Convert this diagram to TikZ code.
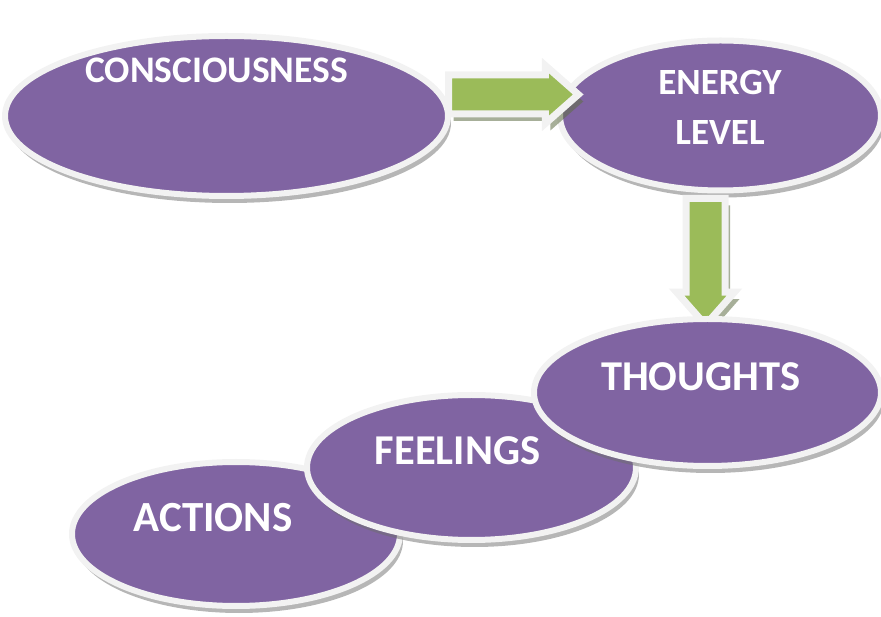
\documentclass[tikz,border=0pt]{standalone}
\usepackage{fontspec}
\newfontfamily\cf{Carlito}
\usetikzlibrary{shapes.geometric,shapes.arrows,shadows}
\definecolor{ovpurple}{HTML}{8064A2}
\definecolor{ovgreen}{HTML}{9BBB59}
\definecolor{ovrim}{HTML}{F2F2F2}
\definecolor{ovshade}{HTML}{6E6E6E}
\definecolor{arshade}{HTML}{5F6E45}
\tikzset{
  oval/.style={ellipse, inner sep=0pt, outer sep=0pt, fill=ovpurple, draw=ovrim, line width=6pt,
    drop shadow={shadow xshift=3pt, shadow yshift=-7pt, fill=ovshade, opacity=0.5}},
  blockarrow/.style={single arrow, inner xsep=0pt, inner ysep=16pt, outer sep=0pt,
    single arrow head extend=9.5pt, single arrow tip angle=82.7, single arrow head indent=0pt,
    minimum width=51pt, fill=ovgreen, draw=ovrim, line width=7pt, anchor=tail,
    drop shadow={shadow xshift=5pt, shadow yshift=-7pt, fill=arshade, opacity=0.55}},
  lbl/.style={text=white, font=\cf\bfseries, anchor=base, inner sep=0pt}
}
\begin{document}
\begin{tikzpicture}[x=1pt,y=1pt]
\useasboundingbox (0,0) rectangle (881,616);
% lower chain
\node[oval, minimum width=328pt, minimum height=144pt] (act) at (236,82) {};
\node[oval, minimum width=329pt, minimum height=145pt] (feel) at (471.5,148.5) {};
% upper row
\node[oval, minimum width=443pt, minimum height=160pt] (cons) at (226.5,500) {};
\node[oval, minimum width=321pt, minimum height=150pt] (energy) at (720.5,500.5) {};
% block arrows
\node[blockarrow, minimum height=129.8pt] (arr1) at (448.5,521.5) {};
\node[blockarrow, minimum height=126.5pt, rotate=-90] (arr2) at (705.5,417.5) {};
\node[oval, minimum width=347pt, minimum height=147pt] (th) at (707.5,223.5) {};
% labels
\node[lbl, font=\cf\bfseries\fontsize{37.5}{42}\selectfont] (tcons) at (216.5,533) {CONSCIOUSNESS};
\node[lbl, font=\cf\bfseries\fontsize{37}{42}\selectfont] (ten) at (720,521) {ENERGY};
\node[lbl, font=\cf\bfseries\fontsize{37}{42}\selectfont] (tlev) at (720,471) {LEVEL};
\node[lbl, font=\cf\bfseries\fontsize{42.5}{47}\selectfont] (tth) at (700.7,225) {THOUGHTS};
\node[lbl, font=\cf\bfseries\fontsize{42.5}{47}\selectfont] (tfe) at (457.5,151) {FEELINGS};
\node[lbl, font=\cf\bfseries\fontsize{43}{47}\selectfont] (tac) at (213,84) {ACTIONS};
\end{tikzpicture}
\end{document}
